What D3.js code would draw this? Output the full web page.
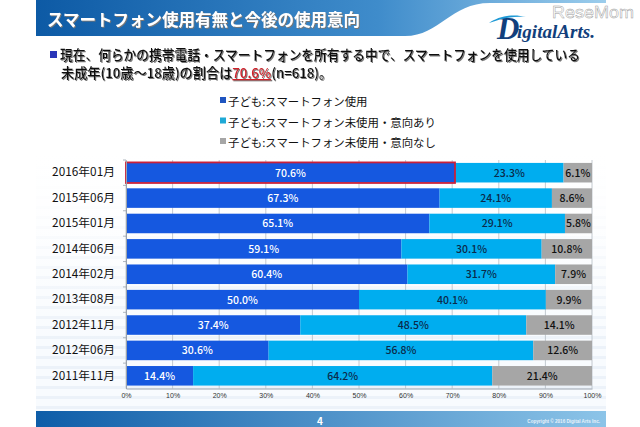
<!DOCTYPE html>
<html lang="ja">
<head>
<meta charset="UTF-8" />
<title>スマートフォン使用有無と今後の使用意向</title>
<script src="https://d3js.org/d3.v7.min.js"></script>
<style>
  body { margin: 0; background: #fff; overflow: hidden; }
  svg { display: block; font-family: "Noto Sans CJK JP", sans-serif; }
</style>
</head>
<body>
<svg width="640" height="427"></svg>
<script>
  const months = ["2016年01月", "2015年06月", "2015年01月", "2014年06月", "2014年02月", "2013年08月", "2012年11月", "2012年06月", "2011年11月"];
  const using = [70.6, 67.3, 65.1, 59.1, 60.4, 50.0, 37.4, 30.6, 14.4];
  const intend = [23.3, 24.1, 29.1, 30.1, 31.7, 40.1, 48.5, 56.8, 64.2];
  const noIntend = [6.1, 8.6, 5.8, 10.8, 7.9, 9.9, 14.1, 12.6, 21.4];
  const seriesNames = ["子ども:スマートフォン使用", "子ども:スマートフォン未使用・意向あり", "子ども:スマートフォン未使用・意向なし"];
  const seriesColors = ["#1558e0", "#00adef", "#a6a6a6"];
  const labelColors = ["#fff", "#0b2a4a", "#111"];
  const xTicks = d3.range(0, 101, 10);

  const svg = d3.select("svg");
  const defs = svg.append("defs");

  const headGrad = defs.append("linearGradient").attr("id", "head").attr("x1", 0).attr("x2", 1).attr("y1", 0).attr("y2", 0);
  headGrad.append("stop").attr("offset", "0%").attr("stop-color", "#0d5aa5");
  headGrad.append("stop").attr("offset", "60%").attr("stop-color", "#3f8ccb");
  headGrad.append("stop").attr("offset", "100%").attr("stop-color", "#9ccdec");

  const footGrad = defs.append("linearGradient").attr("id", "foot").attr("x1", 0).attr("x2", 1).attr("y1", 0).attr("y2", 0);
  footGrad.append("stop").attr("offset", "0%").attr("stop-color", "#0e5da8");
  footGrad.append("stop").attr("offset", "100%").attr("stop-color", "#8cc4e8");

  const shadow = defs.append("filter").attr("id", "soft").attr("x", "-5%").attr("y", "-20%").attr("width", "110%").attr("height", "140%");
  shadow.append("feDropShadow").attr("dx", 1).attr("dy", 1).attr("stdDeviation", 0.6).attr("flood-color", "#777");

  // slide background, stripes fade out towards the top of the chart
  const stripes = defs.append("pattern").attr("id", "stripes").attr("patternUnits", "userSpaceOnUse").attr("width", 8).attr("height", 10);
  stripes.append("rect").attr("width", 8).attr("height", 10).attr("fill", "#f8fbfe");
  stripes.append("rect").attr("y", 6).attr("width", 8).attr("height", 3).attr("fill", "#ecf2f9");
  const fade = defs.append("linearGradient").attr("id", "fade").attr("x1", 0).attr("x2", 0).attr("y1", 0).attr("y2", 1);
  fade.append("stop").attr("offset", "0%").attr("stop-color", "#fff").attr("stop-opacity", 1);
  fade.append("stop").attr("offset", "20%").attr("stop-color", "#fff").attr("stop-opacity", 0.85);
  fade.append("stop").attr("offset", "75%").attr("stop-color", "#fff").attr("stop-opacity", 0);
  svg.append("rect").attr("x", 36).attr("y", 155).attr("width", 570).attr("height", 256).attr("fill", "url(#stripes)");
  svg.append("rect").attr("x", 36).attr("y", 155).attr("width", 570).attr("height", 256).attr("fill", "url(#fade)");

  // header band with the swoosh on its right side
  svg.append("path")
    .attr("d", "M36,0H606V3H490C450,3 440,36 405,36H36Z")
    .attr("fill", "url(#head)");
  svg.append("text").attr("x", 47).attr("y", 26)
    .attr("font-size", 16.5).attr("font-weight", 700).attr("fill", "#fff").attr("filter", "url(#soft)")
    .text("スマートフォン使用有無と今後の使用意向");

  // logo
  const logo = svg.append("g").attr("font-family", "Liberation Serif").attr("font-style", "italic").attr("font-weight", 700).attr("fill", "#123f7c");
  logo.append("text").attr("x", 497).attr("y", 39).attr("font-size", 31).text("D");
  logo.append("text").attr("x", 517).attr("y", 38).attr("font-size", 19)
    .attr("textLength", 78).attr("lengthAdjust", "spacingAndGlyphs").text("igitalArts.");
  svg.append("path").attr("d", "M489,23C498,17 512,13 526,17C514,16 503,18 489,23Z").attr("fill", "#1f9ad6");

  // watermark
  svg.append("text").attr("x", 552).attr("y", 18)
    .attr("font-family", "Liberation Sans").attr("font-size", 17)
    .attr("fill", "#fff").attr("stroke", "#999").attr("stroke-width", 0.45)
    .attr("textLength", 82).attr("lengthAdjust", "spacingAndGlyphs")
    .text("ReseMom");

  // lead text
  svg.append("rect").attr("x", 50).attr("y", 51).attr("width", 7).attr("height", 7).attr("fill", "#2a36b8");
  const lead = svg.append("g").attr("font-size", 13.2).attr("font-weight", 500).attr("fill", "#111").attr("filter", "url(#soft)");
  lead.append("text").attr("x", 60).attr("y", 60).attr("textLength", 520).attr("lengthAdjust", "spacingAndGlyphs")
    .text("現在、何らかの携帯電話・スマートフォンを所有する中で、スマートフォンを使用している");
  const line2 = lead.append("text").attr("x", 61).attr("y", 78);
  line2.append("tspan").text("未成年(10歳～18歳)の割合は");
  line2.append("tspan").attr("fill", "#d0202a").attr("text-decoration", "underline").text("70.6%");
  line2.append("tspan").text("(n=618)。");

  // legend
  const legend = svg.append("g").selectAll("g").data(seriesNames).join("g")
    .attr("transform", (d, i) => `translate(220,${101 + i * 20.5})`);
  legend.append("rect").attr("x", 0).attr("y", -4).attr("width", 6).attr("height", 6).attr("fill", (d, i) => ["#1f55c0", "#1fa9d6", "#a6a6a6"][i]);
  legend.append("text").attr("x", 8).attr("y", 5).attr("font-size", 11.4).attr("fill", "#111").text(d => d);

  // chart
  const x = d3.scaleLinear().domain([0, 100]).range([126, 592]);
  const y = d3.scaleBand().domain(months).range([160, 388.5]).paddingInner(0.23).paddingOuter(0.115);
  const gap = y.step() - y.bandwidth();

  svg.append("g").selectAll("line").data(xTicks).join("line")
    .attr("x1", d => x(d)).attr("x2", d => x(d)).attr("y1", 160).attr("y2", 388.5)
    .attr("stroke", "#b5bcc4").attr("stroke-width", 0.8);

  const rows = months.map((m, i) => ({ month: m, values: [using[i], intend[i], noIntend[i]] }));
  const row = svg.append("g").selectAll("g").data(rows).join("g");
  row.each(function (r) {
    let start = 0;
    r.values.forEach((v, k) => {
      const g = d3.select(this);
      g.append("rect").attr("x", x(start)).attr("y", y(r.month))
        .attr("width", x(start + v) - x(start)).attr("height", y.bandwidth())
        .attr("fill", seriesColors[k]);
      g.append("text").attr("x", (x(start) + x(start + v)) / 2).attr("y", y(r.month) + y.bandwidth() / 2 + 4)
        .attr("text-anchor", "middle").attr("font-size", 10.5).attr("font-weight", 500)
        .attr("fill", labelColors[k]).text(v.toFixed(1) + "%");
      start += v;
    });
  });

  // highlight on the latest survey
  svg.append("rect").attr("x", x(0)).attr("y", y(months[0]) - 0.5)
    .attr("width", x(using[0]) - x(0)).attr("height", y.bandwidth() + 1)
    .attr("fill", "none").attr("stroke", "#c8203a").attr("stroke-width", 1.8);

  // axes
  const xAxis = svg.append("g").attr("transform", "translate(0,388.5)")
    .call(d3.axisBottom(x).tickValues(xTicks).tickFormat(d => d + "%").tickSize(0).tickPadding(5));
  xAxis.select(".domain").attr("stroke", "#9aa3ad");
  xAxis.selectAll("text").attr("font-size", 7).attr("fill", "#333").attr("font-family", "Liberation Sans");

  const yAxis = svg.append("g").attr("transform", "translate(126,0)")
    .call(d3.axisLeft(y).tickSize(0).tickPadding(11));
  yAxis.select(".domain").attr("stroke", "#9aa3ad");
  yAxis.selectAll("text").attr("font-size", 11.8).attr("fill", "#111").attr("font-family", "Noto Sans CJK JP");

  // small marks between the categories
  svg.append("g").selectAll("line").data(months).join("line")
    .attr("x1", 123).attr("x2", 126)
    .attr("y1", d => y(d) - gap / 2).attr("y2", d => y(d) - gap / 2)
    .attr("stroke", "#9aa3ad").attr("stroke-width", 0.8);

  // footer
  svg.append("rect").attr("x", 36).attr("y", 411).attr("width", 570).attr("height", 16).attr("fill", "url(#foot)");
  svg.append("text").attr("x", 320).attr("y", 425).attr("text-anchor", "middle").attr("font-size", 10).attr("font-weight", 700).attr("fill", "#fff").text("4");
  svg.append("text").attr("x", 600).attr("y", 423).attr("text-anchor", "end").attr("font-size", 4.6).attr("font-weight", 700).attr("fill", "#e8f2fa")
    .attr("font-family", "Liberation Sans").text("Copyright © 2016 Digital Arts Inc.");
</script>
</body>
</html>
